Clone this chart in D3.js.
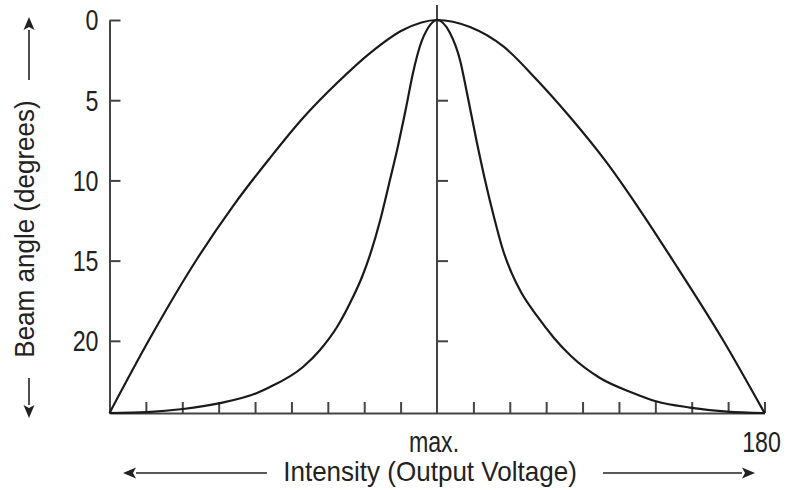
<!DOCTYPE html>
<html>
<head>
<meta charset="utf-8">
<script src="https://cdnjs.cloudflare.com/ajax/libs/d3/7.8.5/d3.min.js"></script>
<style>
  body { margin: 0; background: #fff; }
  svg text { font-family: "Liberation Sans", Arial, sans-serif; fill: #222; }
</style>
</head>
<body>
<div id="chart"></div>
<script>
// values: x is intensity position (0..180, max. at 90), angle in degrees
var broadX = [0, 10.85, 24.05, 33.94, 44.1, 53.17, 62.52, 71.59, 80.66, 90,
  99.07, 108.41, 117.48, 126.55, 136.71, 145.78, 154.57, 168.59, 180];
var broadAngle = [24.5, 19.95, 14.9, 11.6, 8.6, 6.11, 3.93, 2.06, 0.62, 0,
  0.44, 1.68, 3.74, 6.05, 8.91, 11.85, 14.9, 19.95, 24.5];

var narrowX = [0, 10.31, 20.2, 30.37, 40.53, 44.11, 53.17, 57.85, 62.52, 66.91, 69.39, 71.86, 74.33, 76.81, 79.28,
  81.48, 83.4, 85.33, 87.53, 90, 93.57, 96.32, 98.24, 100.99, 103.19, 105.66, 108.13, 110.61, 113.08, 117.48,
  122.15, 126.82, 134.79, 143.86, 149.9, 159.52, 169.69, 180];
var narrowAngle = [24.5, 24.44, 24.25, 23.88, 23.25, 22.88, 21.63, 20.57, 19.14, 17.27, 16.02, 14.46, 12.53, 10.22, 7.85,
  5.49, 3.3, 1.62, 0.5, 0, 0.81, 2.49, 4.55, 7.67, 9.97, 12.28, 14.34, 15.83, 16.96, 18.45,
  19.82, 20.95, 22.32, 23.25, 23.75, 24.16, 24.41, 24.5];

var yTicks = [0, 5, 10, 15, 20];
var centerTicks = [5, 10, 15, 20];
var xTicks = [10, 20, 30, 40, 50, 60, 70, 80, 100, 110, 120, 130, 140, 150, 160, 170, 180];
var xLabels = [{ v: 90, t: "max." }, { v: 180, t: "180" }];

var svgWidth = 788, svgHeight = 490;

var svg = d3.select("#chart")
  .append("svg")
  .attr("width", svgWidth)
  .attr("height", svgHeight);

var x = d3.scaleLinear().domain([0, 180]).range([109.5, 764.5]);
var y = d3.scaleLinear().domain([0, 24.5]).range([20, 413]);

var axisColor = "#444";

// left axis, ticks pointing inward
var leftAxis = svg.append("g")
  .attr("transform", `translate(${x(0)},0)`)
  .call(d3.axisLeft(y).tickValues(yTicks).tickSizeInner(-11).tickSizeOuter(0).tickPadding(0));
leftAxis.selectAll("text")
  .attr("x", null).attr("dy", null)
  .attr("dominant-baseline", "central")
  .attr("transform", "translate(-11,0) scale(0.8,1)")
  .style("font-size", "29px")
  .attr("fill", "#222");

// bottom axis, ticks pointing up
svg.append("g")
  .attr("transform", `translate(0,${y(24.5)})`)
  .call(d3.axisBottom(x).tickValues(xTicks).tickSizeInner(-11).tickSizeOuter(0).tickFormat(""));

// centre line with its own ticks
svg.append("line")
  .attr("x1", x(90)).attr("x2", x(90))
  .attr("y1", y(0) - 15).attr("y2", y(24.5))
  .attr("stroke", axisColor).attr("stroke-width", 2);
var centerAxis = svg.append("g")
  .attr("transform", `translate(${x(90)},0)`)
  .call(d3.axisRight(y).tickValues(centerTicks).tickSize(11).tickFormat(""));
centerAxis.select(".domain").remove();

svg.selectAll(".domain, .tick line")
  .attr("stroke", axisColor)
  .attr("stroke-width", 2);

// x labels
svg.selectAll(".xlabel")
  .data(xLabels)
  .enter()
  .append("text")
  .attr("class", "xlabel")
  .attr("text-anchor", "middle")
  .attr("transform", d => `translate(${x(d.v) - 3},452) scale(0.8,1)`)
  .style("font-size", "29px")
  .text(d => d.t);

// curves
var line = d3.line()
  .x(d => x(d[0]))
  .y(d => y(d[1]))
  .curve(d3.curveMonotoneX);

[d3.zip(broadX, broadAngle), d3.zip(narrowX, narrowAngle)].forEach(function(pts) {
  svg.append("path")
    .datum(pts)
    .attr("d", line)
    .attr("fill", "none")
    .attr("stroke", "#1a1a1a")
    .attr("stroke-width", 2.2);
});

// axis titles
svg.append("text")
  .attr("text-anchor", "middle")
  .attr("transform", "translate(430,481) scale(0.93,1)")
  .style("font-size", "28px")
  .text("Intensity (Output Voltage)");

svg.append("text")
  .attr("text-anchor", "middle")
  .attr("transform", "translate(34,229) rotate(-90) scale(0.93,1)")
  .style("font-size", "28px")
  .text("Beam angle (degrees)");

// arrows
function arrow(x1, y1, x2, y2) {
  var a = Math.atan2(y2 - y1, x2 - x1), len = 13, hw = 5.5;
  var bx = x2 - len * Math.cos(a), by = y2 - len * Math.sin(a);
  svg.append("line")
    .attr("x1", x1).attr("y1", y1).attr("x2", bx).attr("y2", by)
    .attr("stroke", "#222").attr("stroke-width", 1.6);
  svg.append("path")
    .attr("d", `M${x2},${y2}L${bx + hw * Math.sin(a)},${by - hw * Math.cos(a)}L${bx + 3 * Math.cos(a)},${by + 3 * Math.sin(a)}L${bx - hw * Math.sin(a)},${by + hw * Math.cos(a)}Z`)
    .attr("fill", "#222");
}
arrow(29, 80, 29, 17);
arrow(29, 378, 29, 418);
arrow(267, 473, 123, 473);
arrow(603, 473, 755, 473);
</script>
</body>
</html>
